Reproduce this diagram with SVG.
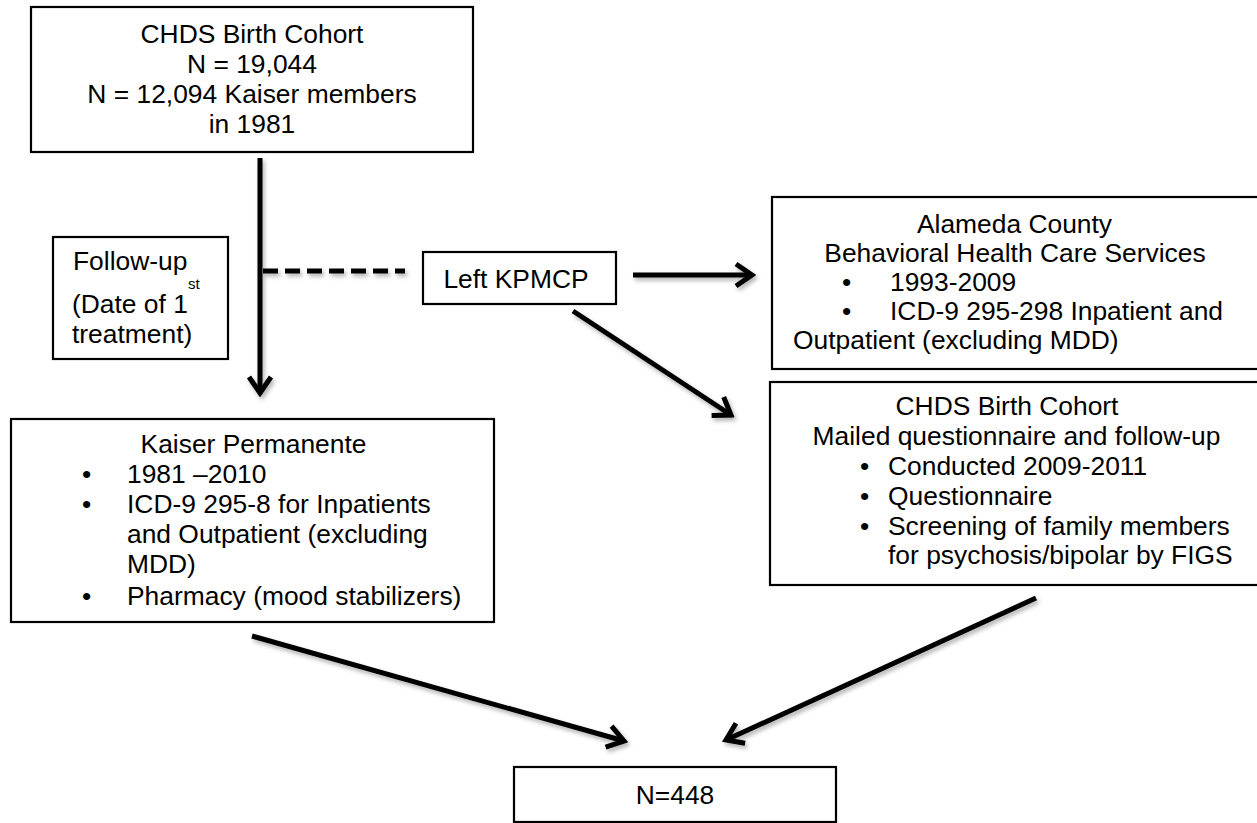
<svg xmlns="http://www.w3.org/2000/svg" width="1257" height="823" viewBox="0 0 1257 823">
<style>
.box{fill:#fff;stroke:#000;stroke-width:2.2}
text{font-family:"Liberation Sans",Arial,sans-serif;font-size:26.4px;fill:#000}
.c{text-anchor:middle}
.ln{stroke:#000;stroke-width:5;fill:none}
</style>
<defs>
<filter id="sh" x="-20%" y="-20%" width="140%" height="140%">
<feDropShadow dx="2" dy="3" stdDeviation="2" flood-color="#000" flood-opacity="0.3"/>
</filter>
<marker id="ah" viewBox="-22 -16 26 32" markerWidth="26" markerHeight="32" refX="0" refY="0" markerUnits="userSpaceOnUse" orient="auto">
<path d="M-16,-11 L0,0 L-16,11" fill="none" stroke="#000" stroke-width="5" stroke-linejoin="miter"/>
</marker>
</defs>
<rect width="1257" height="823" fill="#fff"/>
<g id="connectors" filter="url(#sh)">
<line class="ln" x1="260" y1="158" x2="260" y2="393" marker-end="url(#ah)"/>
<line class="ln" x1="263" y1="271" x2="405" y2="271" stroke-dasharray="15 7"/>
<line class="ln" x1="633" y1="275" x2="752" y2="275" marker-end="url(#ah)"/>
<line class="ln" x1="573" y1="311" x2="731" y2="415" marker-end="url(#ah)"/>
<line class="ln" x1="252" y1="636" x2="624" y2="741" marker-end="url(#ah)"/>
<line class="ln" x1="1036" y1="598" x2="726" y2="740" marker-end="url(#ah)"/>
</g>
<g id="chds-top">
<rect class="box" x="31" y="7" width="442" height="145"/>
<text class="c" x="252" y="43">CHDS Birth Cohort</text>
<text class="c" x="252" y="73">N = 19,044</text>
<text class="c" x="252" y="103">N = 12,094 Kaiser members</text>
<text class="c" x="252" y="133">in 1981</text>
</g>
<g id="followup">
<rect class="box" x="53" y="237" width="175" height="122"/>
<text x="73" y="270">Follow-up</text>
<text x="72" y="313">(Date of 1<tspan font-size="15" dy="-24">st</tspan></text>
<text x="72" y="343">treatment)</text>
</g>
<g id="left-kpmcp">
<rect class="box" x="423" y="252" width="193" height="52"/>
<text class="c" x="516" y="288">Left KPMCP</text>
</g>
<g id="alameda">
<rect class="box" x="772" y="197" width="495" height="172"/>
<text class="c" x="1014.5" y="233">Alameda County</text>
<text class="c" x="1015" y="262">Behavioral Health Care Services</text>
<text x="842" y="291">•</text>
<text x="890" y="291">1993-2009</text>
<text x="842" y="320">•</text>
<text x="890" y="320">ICD-9 295-298 Inpatient and</text>
<text x="793" y="349">Outpatient (excluding MDD)</text>
</g>
<g id="chds-mailed">
<rect class="box" x="770" y="382" width="497" height="203"/>
<text class="c" x="1007" y="415">CHDS Birth Cohort</text>
<text class="c" x="1016.5" y="445">Mailed questionnaire and follow-up</text>
<text x="860" y="475">•</text>
<text x="888" y="475">Conducted 2009-2011</text>
<text x="860" y="505">•</text>
<text x="888" y="505">Questionnaire</text>
<text x="860" y="535">•</text>
<text x="888" y="535">Screening of family members</text>
<text x="888" y="564">for psychosis/bipolar by FIGS</text>
</g>
<g id="kaiser">
<rect class="box" x="11" y="419" width="483" height="203"/>
<text class="c" x="253.5" y="453">Kaiser Permanente</text>
<text x="82" y="483">•</text>
<text x="127" y="483">1981 –2010</text>
<text x="82" y="513">•</text>
<text x="127" y="513">ICD-9 295-8 for Inpatients</text>
<text x="127" y="543">and Outpatient (excluding</text>
<text x="127" y="573">MDD)</text>
<text x="82" y="605">•</text>
<text x="127" y="605">Pharmacy (mood stabilizers)</text>
</g>
<g id="n448">
<rect class="box" x="514" y="767" width="322" height="55"/>
<text class="c" x="675" y="804">N=448</text>
</g>
</svg>
